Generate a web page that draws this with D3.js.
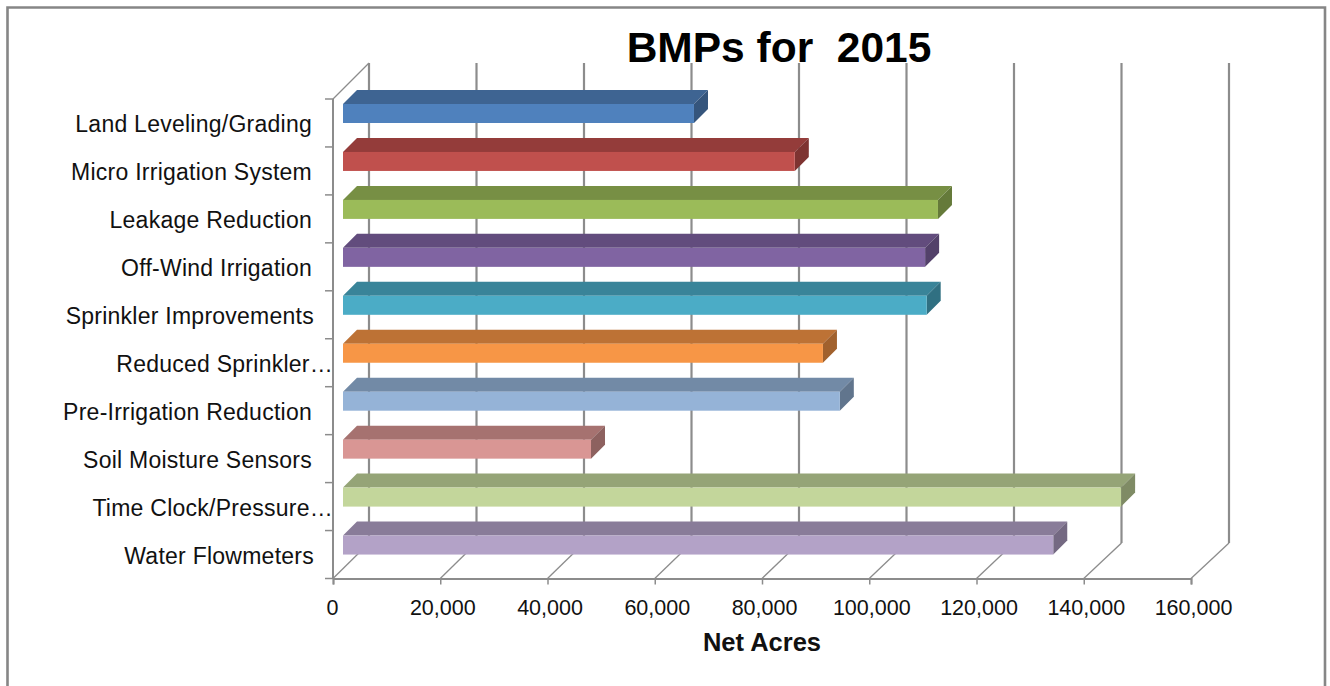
<!DOCTYPE html>
<html><head><meta charset="utf-8">
<script src="https://cdnjs.cloudflare.com/ajax/libs/d3/7.8.5/d3.min.js"></script>
<style>html,body{margin:0;padding:0;background:#fff}svg{display:block}text{font-family:"Liberation Sans",Arial,sans-serif}</style>
</head><body><svg id="c" width="1330" height="686"></svg>
<script>
const titleText = "BMPs for  2015";
const axisTitle = "Net Acres";
const categories = ["Land Leveling/Grading","Micro Irrigation System","Leakage Reduction","Off-Wind Irrigation","Sprinkler Improvements","Reduced Sprinkler…","Pre-Irrigation Reduction","Soil Moisture Sensors","Time Clock/Pressure…","Water Flowmeters"];
const values = [65450,84250,110950,108550,108850,89500,92650,46250,145100,132450];
const tickValues = [0,20000,40000,60000,80000,100000,120000,140000,160000];
const frontColors = ["#4f81bd","#c0504d","#9bbb59","#8064a2","#4bacc6","#f79646","#95b3d7","#d99694","#c3d69b","#b3a2c7"];
const topColors = ["#3e6492","#943c3a","#778f44","#624c7d","#398499","#bd7235","#728aa6","#a67270","#95a477","#897c99"];

const svg = d3.select("#c");
const grey = "#8c8c8c";
const x = d3.scaleLinear().domain([0,160000]).range([333,1191]);
const xBack = d3.scaleLinear().domain([0,160000]).range([369,1229]);
const floorY = 578.5, backFloorY = 543, backTop = 63, frontTop = 99;
const y = d3.scaleBand().domain(categories).range([frontTop,floorY]);
const barDepth = 14, barInset = 10, barTop = 5, barH = 19;

// frame
svg.append("path").attr("d","M7.5 687V7.5H1325V687").attr("fill","none").attr("stroke","#868686").attr("stroke-width",2.6);

// back wall gridlines + floor diagonals
const g = svg.append("g");
tickValues.forEach(t=>{
  g.append("line").attr("x1",x(t)).attr("y1",floorY).attr("x2",xBack(t)).attr("y2",backFloorY)
   .attr("stroke",grey).attr("stroke-width",1.3);
  g.append("line").attr("x1",xBack(t)).attr("x2",xBack(t)).attr("y1",backTop).attr("y2",backFloorY)
   .attr("stroke",grey).attr("stroke-width",2.2);
});
// left wall top diagonal
g.append("line").attr("x1",x(0)).attr("y1",frontTop).attr("x2",xBack(0)).attr("y2",backTop).attr("stroke",grey).attr("stroke-width",1.3);

// axes
const xAxis = d3.axisBottom(x).tickValues(tickValues).tickSize(6).tickPadding(15).tickFormat(d3.format(","));
const ax = svg.append("g").attr("transform",`translate(0,${floorY})`).call(xAxis);
ax.select(".domain").attr("stroke",grey).attr("stroke-width",2);
ax.selectAll(".tick line").attr("stroke",grey).attr("stroke-width",1.5);
ax.selectAll("text").attr("font-size",21.5).attr("fill","#111").attr("font-family","Liberation Sans")
  .attr("dx",d=>d===0?-1:2);

const yAxis = d3.axisLeft(y).tickSize(0).tickPadding(21);
const ay = svg.append("g").attr("transform",`translate(333,0)`).call(yAxis);
ay.select(".domain").remove();
ay.selectAll("text").attr("font-size",23).attr("letter-spacing",0.25).attr("fill","#111").attr("font-family","Liberation Sans")
  .attr("dx",d=>d.endsWith("…")?21:(d==="Water Flowmeters"||d==="Sprinkler Improvements")?2:0).attr("dy","0.41em");
svg.append("line").attr("x1",333).attr("x2",333).attr("y1",frontTop).attr("y2",floorY).attr("stroke",grey).attr("stroke-width",2);
const leftTicks = categories.map(c=>y(c)).concat([floorY]);
svg.append("g").selectAll("line").data(leftTicks).join("line")
  .attr("x1",325).attr("x2",333).attr("y1",d=>d).attr("y2",d=>d).attr("stroke",grey).attr("stroke-width",1.5);

// bars
const bars = svg.append("g").selectAll("g").data(categories).join("g");
const x0 = x(0)+barInset;
const w = v => x(v)-x(0);
bars.each(function(c,i){
  const s = d3.select(this), top = y(c)+barTop, right = x0+w(values[i]);
  const t = d3.rgb(topColors[i]);
  s.append("path").attr("d",`M${x0} ${top}l${barDepth} ${-barDepth}H${right+barDepth}l${-barDepth} ${barDepth}Z`).attr("fill",topColors[i]);
  s.append("path").attr("d",`M${right} ${top}l${barDepth} ${-barDepth}v${barH}l${-barDepth} ${barDepth}Z`).attr("fill",d3.rgb(t.r*.85,t.g*.85,t.b*.85).formatHex());
  s.append("rect").attr("x",x0).attr("y",top).attr("width",right-x0).attr("height",barH).attr("fill",frontColors[i]);
});

svg.append("text").attr("x",779).attr("y",61.5).attr("text-anchor","middle").attr("font-size",42.5).attr("font-weight","bold").attr("fill","#000").style("white-space","pre").text(titleText);
svg.append("text").attr("x",762).attr("y",651).attr("text-anchor","middle").attr("font-size",25.5).attr("font-weight","bold").attr("fill","#111").text(axisTitle);
</script></body></html>
